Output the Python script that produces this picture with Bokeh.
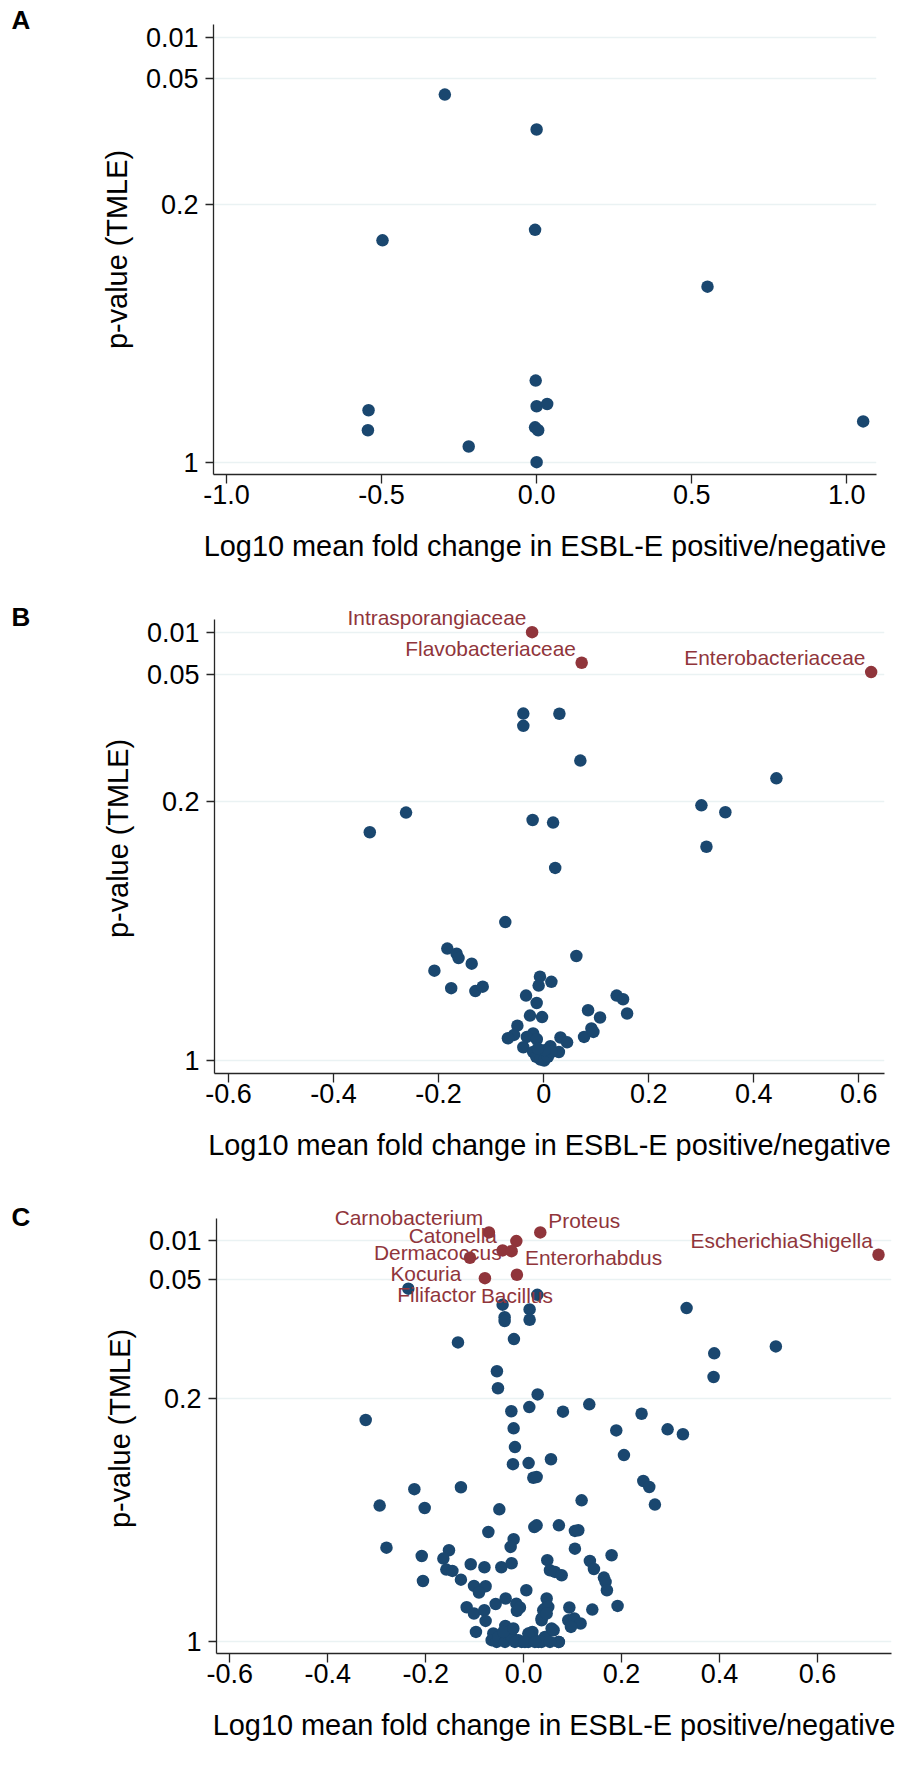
import numpy as np
from bokeh.plotting import figure
from bokeh.layouts import column, row
from bokeh.models import FixedTicker, ColumnDataSource, NumeralTickFormatter, Range1d, Div
from bokeh.embed import file_html
from bokeh.resources import INLINE
from bokeh.core.properties import value

# ---------------- data ----------------
# x = log10 mean fold change, nlp = -log10(p-value, TMLE)
A_x = [-0.296, 0.0, -0.497, -0.005, -0.003, 0.0, 0.034, -0.542, -0.544, -0.005, 0.005, -0.219, 0.0, 0.551, 1.053]
A_nlp = [1.226, 1.059, 0.6025, 0.631, 0.2216, 0.152, 0.158, 0.141, 0.0866, 0.0946, 0.0866, 0.0427, 0.0, 0.4767, 0.1108]

B_x = [-0.0387, -0.0387, -0.262, -0.331, -0.021, 0.018, 0.022, 0.030, -0.073, -0.1834, -0.1657, -0.162,
       -0.137, -0.208, -0.176, -0.130, -0.116, -0.007, -0.0095, 0.0147, -0.0335, -0.0133, -0.026, -0.003,
       -0.050, -0.0564, -0.068, -0.020, -0.032, -0.013, -0.0387, 0.032, 0.0446, 0.029, 0.0128, 0.077,
       0.0909, 0.0947, 0.0846, 0.1074, 0.139, 0.1512, 0.1589, 0.0623, -0.020, -0.014, -0.006, 0.001,
       0.008, 0.0147, 0.002, -0.011, 0.0699, 0.4432, 0.3004, 0.346, 0.310]
B_nlp = [1.114, 1.056, 0.668, 0.615, 0.648, 0.641, 0.519, 1.113, 0.373, 0.3016, 0.288, 0.276,
         0.261, 0.242, 0.195, 0.187, 0.199, 0.226, 0.202, 0.212, 0.175, 0.155, 0.121, 0.117,
         0.094, 0.069, 0.060, 0.073, 0.0636, 0.0574, 0.0358, 0.062, 0.049, 0.023, 0.0385, 0.0636,
         0.0862, 0.077, 0.1355, 0.1158, 0.175, 0.165, 0.1266, 0.2817, 0.023, 0.0097, 0.0027, 0.0,
         0.0097, 0.023, 0.028, 0.032, 0.891, 0.807, 0.6875, 0.669, 0.576]
B_red_names = ["Intrasporangiaceae", "Flavobacteriaceae", "Enterobacteriaceae"]
B_red_x = [-0.022, 0.0724, 0.6236]
B_red_nlp = [2.0, 1.491, 1.335]
B_red_clock = [10, 10, 10]

C_x = [-0.2354, 0.028, -0.0429, -0.0388, -0.0388, 0.0122, 0.0122, -0.0198, -0.134, -0.0545, -0.0524, 0.0286,
       0.0116, -0.0251, -0.3224, -0.0204, -0.0177, -0.0218, 0.0102, 0.0198, 0.0265, 0.0558, -0.2231, -0.128,
       -0.2939, -0.202, -0.0496, 0.0218, 0.0265, -0.072, -0.0204, -0.0265, -0.280, -0.208, -0.1524, -0.1639,
       -0.108, -0.080, -0.0455, -0.0245, -0.1578, -0.1455, -0.2055, -0.128, 0.0483, 0.0537, -0.1013, -0.0776,
       -0.0912, 0.0055, -0.0571, -0.0367, -0.0149, -0.0075, -0.0137, -0.1163, -0.1014, -0.0802, -0.0776, -0.0973,
       -0.0374, 0.0177, 0.047, 0.0401, 0.0367, 0.0435, 0.1184, 0.2443, 0.2565, 0.268, 0.072, 0.1047,
       0.1116, 0.1047, 0.1796, 0.1353, 0.1435, 0.1639, 0.1673, 0.170, 0.1918, 0.1402, 0.0933, 0.0912,
       0.1034, 0.1163, 0.0966, 0.0639, 0.0776, 0.0435, 0.0503, 0.0367, 0.047, 0.0571, 0.072, -0.0619,
       -0.0653, -0.0551, 0.3327, 0.3891, 0.3878, 0.5149, 0.134, 0.0803, 0.2408, 0.1891, 0.2939, 0.3252,
       0.2048, 0.0612, 0.0714, -0.0517, -0.038, -0.0245, -0.0108, -0.004, 0.0096, 0.0198, 0.03, 0.0367,
       0.0537, -0.0414, -0.021, 0.0096, -0.0177, 0.0027, 0.023]
C_nlp = [1.256, 1.225, 1.175, 1.112, 1.092, 1.151, 1.099, 1.001, 0.984, 0.838, 0.752, 0.721,
         0.675, 0.663, 0.638, 0.614, 0.560, 0.511, 0.514, 0.472, 0.474, 0.525, 0.439, 0.4445,
         0.392, 0.385, 0.381, 0.330, 0.335, 0.316, 0.295, 0.273, 0.271, 0.247, 0.2635, 0.2396,
         0.2232, 0.2147, 0.2147, 0.226, 0.208, 0.204, 0.175, 0.179, 0.235, 0.206, 0.161, 0.160,
         0.142, 0.1486, 0.109, 0.1247, 0.110, 0.099, 0.089, 0.0997, 0.0816, 0.0911, 0.0603, 0.0287,
         0.046, 0.0287, 0.1247, 0.091, 0.0623, 0.0143, 0.407, 0.4626, 0.4453, 0.3948, 0.335, 0.319,
         0.321, 0.268, 0.249, 0.2327, 0.2097, 0.185, 0.1724, 0.1486, 0.1034, 0.093, 0.0988, 0.0623,
         0.0672, 0.0529, 0.043, 0.2011, 0.1916, 0.0958, 0.1006, 0.0672, 0.0816, 0.0385, 0.0, 0.0241,
         0.005, 0.0, 1.158, 0.929, 0.809, 0.964, 0.683, 0.662, 0.656, 0.608, 0.611, 0.597,
         0.537, 0.0336, 0.0, 0.0144, 0.0, 0.0144, 0.005, 0.0, 0.0, 0.0098, 0.0, 0.0,
         0.0, 0.0287, 0.0385, 0.024, 0.0, 0.0, 0.0]
C_red_names = ["Carnobacterium", "Catonella", "Dermacoccus", "Kocuria", "Filifactor",
               "Bacillus", "Proteus", "Enterorhabdus", "EscherichiaShigella"]
C_red_x = [-0.0708, -0.0429, -0.0245, -0.1096, -0.079, -0.0137, 0.034, -0.0149, 0.7245]
C_red_nlp = [2.142, 1.822, 1.810, 1.693, 1.330, 1.391, 2.142, 1.988, 1.746]
C_red_clock = [10, 10, 9, 7, 7, 6, 1, 5, 10]

A_xticks = [-1.0, -0.5, 0.0, 0.5, 1.0]
BC_xticks = [-0.6, -0.4, -0.2, 0.0, 0.2, 0.4, 0.6]
B_xlabel_overrides = {0.0: "0"}
P_TICKS = [1, 0.2, 0.05, 0.01]
P_TICK_LABELS = ["1", "0.2", "0.05", "0.01"]

# ---------------- axis scale (position of each p tick on the axis) ----------------
SCORE_AT_TICK = [0.0, 0.6056, 0.902, 1.0]
LA = [-float(np.log10(p)) if p != 1 else 0.0 for p in P_TICKS]


def score(nlp):
    L = np.asarray(nlp, dtype=float)
    s = np.interp(L, LA, SCORE_AT_TICK)
    slope = (SCORE_AT_TICK[-1] - SCORE_AT_TICK[-2]) / (LA[-1] - LA[-2])
    return np.where(L > LA[-1], SCORE_AT_TICK[-1] + (L - LA[-1]) * slope, s)


NAVY = "#1a476f"
MAROON = "#90353b"
GRID = "#eaf2f3"
AXIS = "#262626"
FONT = "Liberation Sans"

# label placement by clock position: (dx px, dy px, align)
CLOCK = {10: (-5.7, -14.7, "right"), 9: (-10, 1, "right"), 7: (-8.7, 16, "right"),
         6: (0, 20.7, "center"), 5: (8.7, 16, "left"), 1: (8, -12, "left")}


def panel(xs, nlp, rx, rnlp, rnames, rclock, xr, yr, ytop, xticks, xover,
          fw, fh, bl, bt, bb, br):
    p = figure(frame_width=fw, frame_height=fh, min_border_left=bl, min_border_top=bt,
               min_border_bottom=bb, min_border_right=br,
               x_range=Range1d(*xr), y_range=Range1d(*yr),
               output_backend="svg", toolbar_location=None)
    p.outline_line_color = None
    p.background_fill_color = "white"
    p.border_fill_color = "white"
    p.xgrid.visible = False
    p.ygrid.ticker = FixedTicker(ticks=SCORE_AT_TICK)
    p.ygrid.grid_line_color = GRID
    p.ygrid.grid_line_width = 1.6

    p.yaxis.ticker = FixedTicker(ticks=SCORE_AT_TICK)
    p.yaxis.major_label_overrides = {t: l for t, l in zip(SCORE_AT_TICK, P_TICK_LABELS)}
    p.yaxis.bounds = (yr[0], ytop)
    p.xaxis.ticker = FixedTicker(ticks=xticks)
    p.xaxis.formatter = NumeralTickFormatter(format="0.0")
    if xover:
        p.xaxis.major_label_overrides = xover
    for ax in (p.xaxis[0], p.yaxis[0]):
        ax.axis_line_color = AXIS
        ax.axis_line_width = 1.3
        ax.major_tick_line_color = AXIS
        ax.major_tick_line_width = 1.3
        ax.major_tick_in = 0
        ax.minor_tick_line_color = None
        ax.major_label_text_font = FONT
        ax.major_label_text_font_size = "27px"
        ax.major_label_text_color = "black"
        ax.axis_label_text_font = FONT
        ax.axis_label_text_font_size = "28.9px"
        ax.axis_label_text_font_style = "normal"
        ax.axis_label_text_color = "black"
    p.yaxis.major_tick_out = 8
    p.yaxis.major_label_standoff = 7
    p.yaxis.axis_label_standoff = 10
    p.yaxis.axis_label = "p-value (TMLE)"
    p.xaxis.major_tick_out = 9
    p.xaxis.major_label_standoff = 1
    p.xaxis.axis_label_standoff = 23
    p.xaxis.axis_label = "Log10 mean fold change in ESBL-E positive/negative"

    p.scatter(x=xs, y=score(nlp), size=12.5, marker="circle", fill_color=NAVY, line_color=None)
    if rx:
        ry = score(rnlp)
        p.scatter(x=rx, y=ry, size=12.5, marker="circle", fill_color=MAROON, line_color=None)
        for c in sorted(set(rclock)):
            idx = [i for i, k in enumerate(rclock) if k == c]
            dx, dy, al = CLOCK[c]
            src = ColumnDataSource(dict(x=[rx[i] for i in idx], y=[ry[i] for i in idx],
                                        t=[rnames[i] for i in idx]))
            p.text(x="x", y="y", text="t", source=src, x_offset=dx, y_offset=dy,
                   text_align=al, text_baseline="middle", text_font=value(FONT),
                   text_font_size="20.9px", text_color=MAROON)
    return p


def letter_div(letter, top):
    html = ('<div style="font-family:\'Liberation Sans\',Arial,sans-serif;font-size:26px;'
            'font-weight:bold;line-height:26px;margin:0;padding:0;position:relative;'
            f'left:6.5px;top:{top}px;color:black;">{letter}</div>')
    return Div(text=html, width=40, height=40)


pA = panel(A_x, A_nlp, [], [], [], [], (-1.042, 1.096), (-0.029, 1.030), 1.030, A_xticks, None,
           663, 450, 163, 24, 124, 30)
pB = panel(B_x, B_nlp, B_red_x, B_red_nlp, B_red_names, B_red_clock,
           (-0.6267, 0.649), (-0.0303, 1.0669), 1.0289, BC_xticks, B_xlabel_overrides,
           670, 470, 164, 5, 120, 22)
pC = panel(C_x, C_nlp, C_red_x, C_red_nlp, C_red_names, C_red_clock,
           (-0.627, 0.751), (-0.0289, 1.092), 1.054, BC_xticks, None,
           675, 450, 166, 10, 100, 15)

layout = column(row(letter_div("A", 1.6), pA, spacing=0),
                row(letter_div("B", 0.6), pB, spacing=0),
                row(letter_div("C", 5.6), pC, spacing=0), spacing=0)
open("out.html", "w").write(file_html(layout, INLINE))
